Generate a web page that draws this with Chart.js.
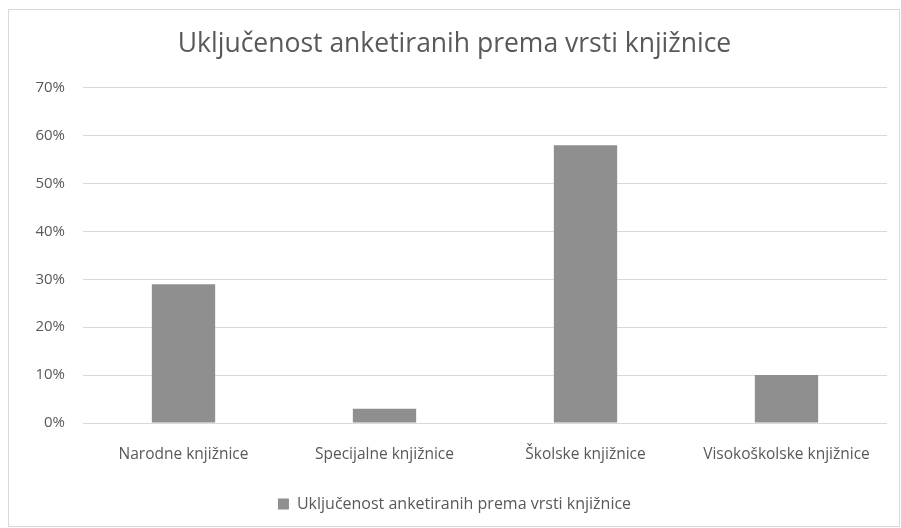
<!DOCTYPE html>
<html>
<head>
<meta charset="utf-8">
<script src="https://cdn.jsdelivr.net/npm/chart.js@4.4.1/dist/chart.umd.min.js"></script>
<style>
  html, body { margin: 0; padding: 0; background: #fff; }
  #wrap { width: 901px; height: 528px; }
</style>
</head>
<body>
<div id="wrap"><canvas id="chart" width="901" height="528"></canvas></div>
<script>
var categories = ['Narodne knjižnice', 'Specijalne knjižnice', 'Školske knjižnice', 'Visokoškolske knjižnice'];
var values = [29, 3, 58, 10];
var seriesName = 'Uključenost anketiranih prema vrsti knjižnice';
var chartTitle = 'Uključenost anketiranih prema vrsti knjižnice';

var FONT = "'Open Sans', Lato, sans-serif";
var TEXT = '#595959';

// frame around the whole chart
var framePlugin = {
  id: 'frame',
  beforeDraw: function(chart) {
    var c = chart.ctx;
    c.save();
    c.fillStyle = '#fff';
    c.fillRect(0, 0, chart.width, chart.height);
    c.strokeStyle = '#d9d9d9';
    c.lineWidth = 1;
    c.strokeRect(8.5, 9.5, 891, 517);
    c.restore();
  }
};

var ctx = document.getElementById('chart').getContext('2d');
new Chart(ctx, {
  type: 'bar',
  data: {
    labels: categories,
    datasets: [{
      label: seriesName,
      data: values,
      backgroundColor: '#8f8f8f',
      borderWidth: 0,
      categoryPercentage: 1,
      barPercentage: 0.315
    }]
  },
  options: {
    responsive: false,
    animation: false,
    layout: { padding: { left: 22, right: 14, top: 14, bottom: 6 } },
    plugins: {
      title: {
        display: true,
        text: chartTitle,
        color: TEXT,
        font: { family: FONT, size: 26.5, weight: 'normal' },
        padding: { top: 15, bottom: 27 }
      },
      legend: {
        display: true,
        position: 'bottom',
        labels: {
          color: TEXT,
          font: { family: FONT, size: 16 },
          boxWidth: 11,
          boxHeight: 11,
          padding: 10
        }
      },
      tooltip: { enabled: false }
    },
    scales: {
      x: {
        grid: { display: false, drawTicks: false },
        border: { display: false },
        ticks: { color: TEXT, font: { family: FONT, size: 15.5 }, padding: 22 },
        afterFit: function(scale) { scale.height = 63; }
      },
      y: {
        min: 0,
        max: 70,
        ticks: {
          stepSize: 10,
          color: TEXT,
          font: { family: FONT, size: 15 },
          padding: 18,
          callback: function(v) { return v + '%'; }
        },
        grid: { color: '#d9d9d9', drawTicks: false },
        border: { display: false },
        afterFit: function(scale) { scale.width = 61; }
      }
    }
  },
  plugins: [framePlugin]
});
</script>
</body>
</html>
